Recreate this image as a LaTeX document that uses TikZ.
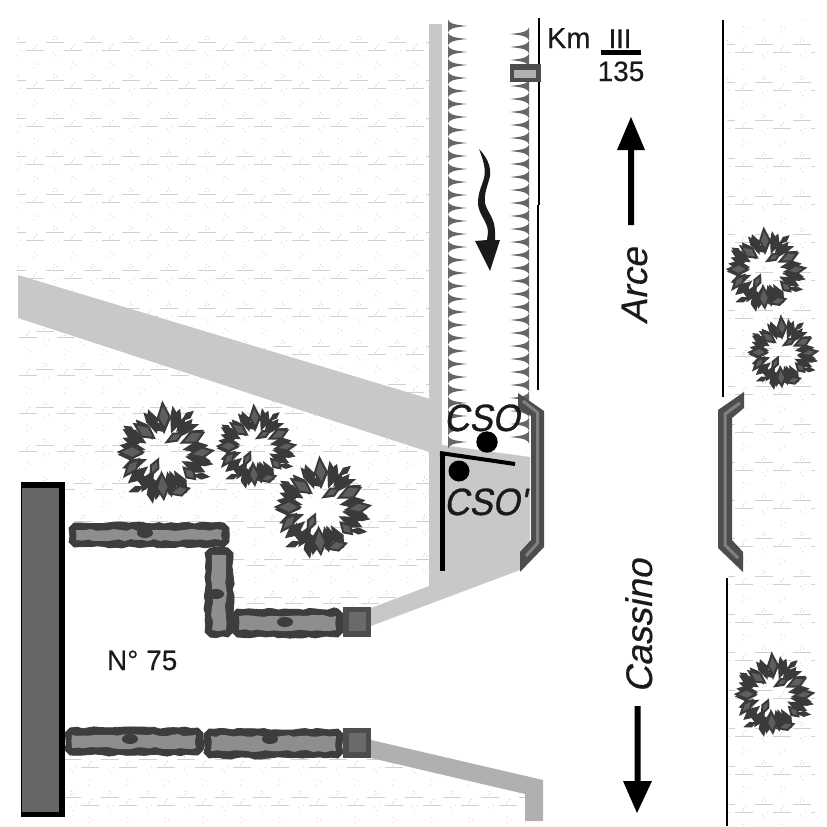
\documentclass[tikz,border=0pt]{standalone}
\usepackage{fontspec}
\setmainfont{Liberation Sans}
\newfontfamily\heavyfont[FakeBold=0.8,FakeSlant=0.2]{Liberation Sans}
\newfontfamily\slantfont[FakeBold=0.3,FakeSlant=0.2]{Liberation Sans}
\newfontfamily\midfont[FakeBold=0.25]{Liberation Sans}
\usetikzlibrary{decorations.pathmorphing}
\definecolor{roadlight}{HTML}{C8C8C8}
\definecolor{roadmid}{HTML}{B0B0B0}
\definecolor{hatchc}{HTML}{D0D0D0}
\definecolor{dotc}{HTML}{D2D2D2}
\definecolor{treedark}{HTML}{3A3A3A}
\definecolor{treeleaf}{HTML}{5E5E5E}
\definecolor{walldark}{HTML}{3D3D3D}
\definecolor{wallin}{HTML}{8E8E8E}
\definecolor{gatedark}{HTML}{4D4D4D}
\definecolor{gatein}{HTML}{6A6A6A}
\definecolor{toothc}{HTML}{666666}
\definecolor{inkc}{HTML}{1A1A1A}
\tikzset{
  lbl/.style={inner sep=0pt,outer sep=0pt,text=inkc},
  rail/.style={draw=black,line width=2.4pt},
  bigleaf/.style={fill=treeleaf,draw=treedark,line width=2pt,line join=miter},
  smallleaf/.style={fill=treedark,draw=treedark,line width=1pt,line join=miter},
  rough/.style={decorate,decoration={random steps,segment length=6pt,amplitude=1.2pt}}
}
\newcommand{\hatchrows}[6]{% x1 y1 x2 y2 imax jmax
  \foreach \i in {0,...,#5}{\foreach \j in {0,...,#6}{
    \pgfmathsetmacro\xa{#1+38*\i}\pgfmathsetmacro\ya{#2+38*\j}
    \pgfmathsetmacro\xb{#3+38*\i}\pgfmathsetmacro\yb{#4+38*\j}
    \draw[hatchc,line width=.9pt] (\xa,\ya) -- ++(18,0) (\xb,\yb) -- ++(18,0);
    \fill[dotc] (\xa+8,\ya-6) rectangle ++(1.2,1.2) (\xa+10,\ya-4) rectangle ++(1.2,1.2) (\xa+7,\ya-3) rectangle ++(1.2,1.2)
      (\xb+8,\yb-4) rectangle ++(1.2,1.2) (\xb+10,\yb-6) rectangle ++(1.2,1.2) (\xb+7,\yb-2) rectangle ++(1.2,1.2);
    \fill[dotc!70] (\xa+7,\ya+10) rectangle ++(1.2,1.2) (\xa+9,\ya+13) rectangle ++(1.2,1.2) (\xa+12,\ya+8) rectangle ++(1.2,1.2)
      (\xb+8,\yb+12) rectangle ++(1.2,1.2) (\xb+11,\yb+14) rectangle ++(1.2,1.2) (\xb+7,\yb+17) rectangle ++(1.2,1.2);
  }}
}
\newcommand{\leaf}[6]{% style zx zy ang l w
  \pgfmathsetmacro\lx{(#2-159)/3}\pgfmathsetmacro\ly{(#3-171)/3}
  \pgfmathsetmacro\ca{cos(#4)}\pgfmathsetmacro\sa{sin(#4)}
  \path[#1] ({\lx+#5*\ca},{\ly+#5*\sa}) -- ({\lx+.1*#5*\ca-#6*\sa},{\ly+.1*#5*\sa+#6*\ca})
    -- ({\lx-#5*\ca},{\ly-#5*\sa}) -- ({\lx+.1*#5*\ca+#6*\sa},{\ly+.1*#5*\sa-#6*\ca}) -- cycle;
}
\newcommand{\treeat}[3]{%
  \begin{scope}[shift={(#1,#2)},scale=#3]
    \foreach \t/\r in {-170/96,-150/104,-130/92,-110/100,-90/96,-70/102,-50/94,-30/100,-10/96,10/104,25/98,60/100,80/96,100/104,120/96,140/102,160/94,178/100}{
      \pgfmathsetmacro\zx{159+\r*cos(\t)}\pgfmathsetmacro\zy{171+\r*sin(\t)}
      \leaf{smallleaf}{\zx}{\zy}{\t}{12}{5.5}
    }
    \foreach \a/\b/\c/\d/\e in {55/100/30/6/3,60/135/20/8/4,115/70/50/8/4,190/60/80/9/4,230/60/-40/7/3,235/95/-20/9/3,
      280/200/10/8/3,265/200/20/7/3,270/240/5/8/3,90/245/80/9/4,120/290/80/10/4,185/250/70/8/4,75/280/-20/7/3,130/265/60/9/4,210/85/-60/8/3,
      135/90/40/8/4,85/130/30/7/3}
      {\leaf{smallleaf}{\a}{\b}{\c}{\d}{\e}}
    \foreach \a/\b/\c/\d/\e in {158/60/85/13/6,100/105/35/12/6,60/168/0/12/6,62/215/-50/11/5,155/270/85/13/6,
      245/125/-25/12/6,270/170/-10/12/5,190/125/-30/9/4,130/215/-65/9/4,205/285/-15/10/5,235/232/45/8/5}
      {\leaf{bigleaf}{\a}{\b}{\c}{\d}{\e}}
  \end{scope}
}
\newcommand{\wallbox}[9]{% name x1 y1 x2 y2 bx by inset seed
  \pgfmathsetseed{#9}
  \draw[walldark,fill=walldark,line width=.8pt,rough] (#2+5,#3) -- (#4-5,#3) -- (#4,#3+5) -- (#4,#5-5) -- (#4-5,#5) -- (#2+5,#5) -- (#2,#5-5) -- (#2,#3+5) -- cycle;
  \fill[wallin,rough] (#2+#8,#3+#8) rectangle (#4-#8,#5-#8);
  \fill[walldark] (#6,#7) ellipse (8 and 5);
}
\newcommand{\gatebox}[2]{%
  \fill[gatedark] (343,#1) rectangle (371,#1+30);
  \fill[gatein] (349,#1+5) rectangle (366,#1+24);
}
\begin{document}
\begin{tikzpicture}[x=1pt,y=-1pt]
\useasboundingbox (0,0) rectangle (827,827);
\fill[white] (0,0) rectangle (827,827);
% field texture
\begin{scope}
  \clip (17,18) -- (430,18) -- (430,405) -- (17,280) -- cycle;
  \hatchrows{8}{42}{-12}{50}{11}{10}
\end{scope}
\begin{scope}
  \clip (17,316) -- (430,450) -- (430,585) -- (371,607) -- (232,607) -- (232,522) -- (65,522) -- (65,482) -- (17,482) -- cycle;
  \hatchrows{-2}{293}{-19}{299}{12}{8}
\end{scope}
\begin{scope}
  \clip (65,756) -- (343,756) -- (371,758) -- (525,794) -- (525,825) -- (65,825) -- cycle;
  \hatchrows{63}{759}{43}{767}{12}{1}
\end{scope}
\begin{scope}
  \clip (727,18) -- (815,18) -- (815,825) -- (729,825) -- cycle;
  \hatchrows{717}{6}{697}{14}{3}{21}
\end{scope}
% roads
\fill[roadlight] (429,24) rectangle (442,586);
\fill[roadlight] (18,275) -- (430,399) -- (442,445) -- (530,457) -- (530,545) -- (520,570) -- (371,626) -- (371,608) -- (429,586) -- (429,452) -- (18,318) -- cycle;
\fill[roadmid] (371,740) -- (543,780) -- (543,821) -- (525,821) -- (525,794) -- (371,758) -- cycle;
% railway teeth
\foreach \k in {0,...,32}{
  \pgfmathsetmacro\ty{26+13*\k}
  \fill[toothc] (448,\ty-6.5) .. controls (449.5,\ty-2.5) and (453,\ty-1.5) .. (467,\ty) .. controls (453,\ty+1.5) and (449.5,\ty+2.5) .. (448,\ty+6.5) -- cycle;
}
\foreach \k in {0,...,31}{
  \pgfmathsetmacro\ty{34+13*\k}
  \fill[toothc] (529,\ty-6.5) .. controls (527.5,\ty-2.5) and (524,\ty-1.5) .. (510,\ty) .. controls (524,\ty+1.5) and (527.5,\ty+2.5) .. (529,\ty+6.5) -- cycle;
}
% rails
\draw[rail] (539,18) -- (539,205);
\draw[rail] (538,205) -- (538,390);
\draw[rail,line width=2.8pt] (723,20) -- (723,397);
\draw[rail,line width=2.8pt] (727,578) -- (727,826);
% km marker
\fill[gatedark] (510,64) rectangle (541,82);
\fill[roadmid] (514,70) rectangle (536,78);
% wavy arrow
\fill[inkc] (479,149) .. controls (490,160) and (492,172) .. (489,180) .. controls (486,190) and (484,196) .. (485,203) .. controls (487,212) and (495,218) .. (495,232) -- (495,240) -- (500,240) -- (490,271) -- (475,241) -- (487,240) -- (488,232) .. controls (488,222) and (478,214) .. (478,203) .. controls (478,192) and (482,186) .. (484,178) .. controls (486,170) and (484,162) .. cycle;
% road direction arrows
\fill[black] (628,225) -- (628,150) -- (617,150) -- (631,117) -- (645,150) -- (634,150) -- (634,225) -- cycle;
\fill[black] (634.5,706) -- (634.5,781) -- (623,781) -- (637,813) -- (652,781) -- (640.5,781) -- (640.5,706) -- cycle;
% level crossing walls
\fill[gatedark] (518,393) -- (544,411) -- (544,547) -- (520,572) -- (520,552) -- (531,540) -- (531,416) -- (518,408) -- cycle;
\draw[gray,line width=3pt] (523,401) -- (537.5,412.5) -- (537.5,543) -- (526,556);
\fill[gatedark] (744,392) -- (718,410) -- (718,548) -- (743,572) -- (743,552) -- (732,540) -- (732,418) -- (744,408) -- cycle;
\draw[gray,line width=3pt] (740,403) -- (725,414) -- (725,545) -- (738,558);
% building
\fill[black] (21,482) rectangle (65,817);
\fill[gatein!96!black] (22,488) rectangle (59,812);
% walls
\wallbox{wa}{69}{523}{229}{547}{145}{533}{7}{11}
\wallbox{wb}{205}{548}{233}{637}{216}{594}{7}{12}
\wallbox{wc}{232}{609}{343}{637}{285}{622}{7}{13}
\wallbox{wd}{65}{728}{203}{755}{130}{739}{7}{14}
\wallbox{we}{204}{729}{343}{758}{270}{739}{7}{15}
\gatebox{607}{}
\gatebox{728}{}
% trees
\treeat{164}{453}{1}
\treeat{255}{447}{.82}
\treeat{321}{508}{1}
\treeat{765}{270}{.82}
\treeat{782}{353}{.72}
\treeat{773}{695}{.82}
% CSO markers
\draw[black,line width=5pt] (442,571) -- (442,453);
\draw[black,line width=4pt] (440,453) -- (515,464);
\fill[black] (487,442) circle (10.7);
\fill[black] (459,471) circle (10.5);
% text
\node[lbl,anchor=base west,font=\heavyfont\fontsize{38}{38}\selectfont] (cso) at (444,431) {\scalebox{.92}[1]{CSO}};
\node[lbl,anchor=base west,font=\heavyfont\fontsize{38}{38}\selectfont] (csop) at (444,515) {\scalebox{.92}[1]{CSO'}};
\node[lbl,anchor=base west,font=\midfont\fontsize{29}{29}\selectfont] (km) at (547,48) {Km};
\node[lbl,anchor=base,font=\midfont\fontsize{27}{27}\selectfont] (kmtop) at (620,48) {III};
\fill[black] (601,50) rectangle (641,55);
\node[lbl,anchor=base,font=\midfont\fontsize{28}{28}\selectfont] (kmnum) at (621,81) {135};
\node[lbl,anchor=base west,font=\midfont\fontsize{28}{28}\selectfont] (num) at (107,670) {N° 75};
\node[lbl,anchor=base,rotate=90,font=\slantfont\fontsize{37}{37}\selectfont] (arce) at (647,286) {Arce};
\node[lbl,anchor=base,rotate=90,font=\slantfont\fontsize{37}{37}\selectfont] (cassino) at (652,626) {Cassino};
\end{tikzpicture}
\end{document}
